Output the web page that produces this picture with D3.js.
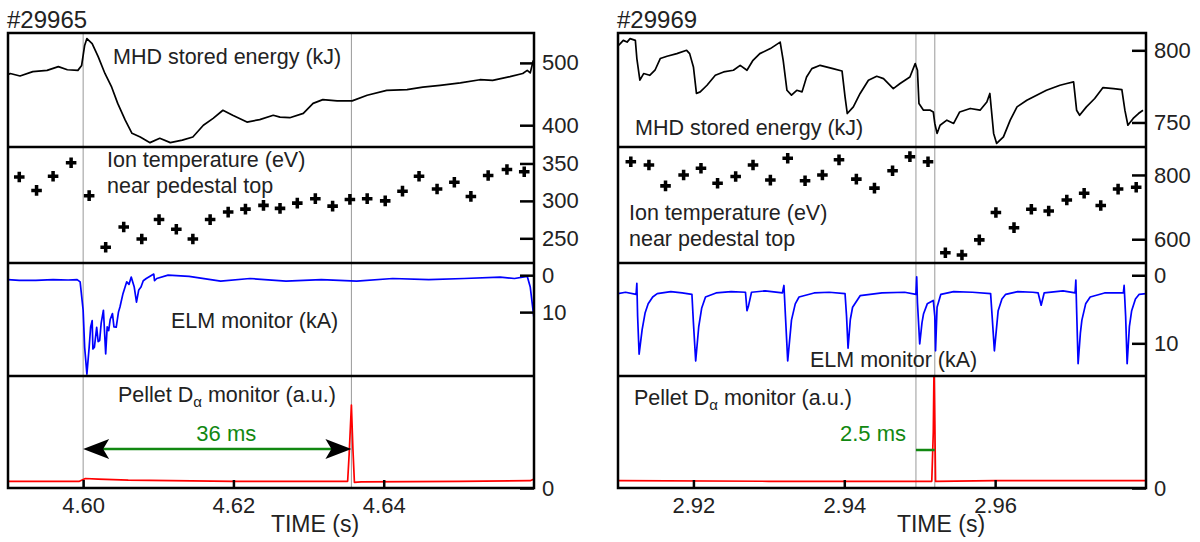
<!DOCTYPE html>
<html>
<head>
<meta charset="utf-8">
<style>
  body { margin: 0; background: #fff; }
  svg text { font-family: "Liberation Sans", Arial, sans-serif; fill: #222; }
  .frame { fill: none; stroke: #000; stroke-width: 2.5px; }
  .marker { stroke: #999; stroke-width: 1px; }
</style>
</head>
<body>
<svg id="chart" width="1200" height="542"></svg>
<script src="https://cdn.jsdelivr.net/npm/d3@7"></script>
<script>
// ---- shot #29965 : [time (s), value] ----
var leftWmhd = [[4.5900,481],[4.5903,483],[4.5916,479],[4.5933,486],[4.5952,488],[4.5967,494],[4.5979,489],[4.5993,488],[4.5998,496],[4.6002,528],[4.6005,539],[4.6012,531],[4.6020,510],[4.6029,483],[4.6038,461],[4.6046,435],[4.6056,408],[4.6065,387],[4.6076,381],[4.6089,372],[4.6102,379],[4.6116,372],[4.6132,376],[4.6146,381],[4.6160,400],[4.6173,411],[4.6186,424],[4.6199,416],[4.6218,405],[4.6235,409],[4.6253,416],[4.6262,413],[4.6275,412],[4.6293,419],[4.6306,435],[4.6319,441],[4.6338,439],[4.6358,439],[4.6378,448],[4.6404,456],[4.6431,457],[4.6452,461],[4.6475,464],[4.6502,468],[4.6528,473],[4.6545,472],[4.6568,478],[4.6585,483],[4.6591,488],[4.6595,484],[4.6599,504]];
var leftTi = [[4.5915,332],[4.5938,314],[4.5960,333],[4.5984,351],[4.6008,307],[4.6030,238],[4.6054,265],[4.6078,249],[4.6101,275],[4.6124,262],[4.6146,249],[4.6169,275],[4.6193,285],[4.6216,289],[4.6240,294],[4.6262,290],[4.6285,297],[4.6309,303],[4.6332,293],[4.6355,302],[4.6378,303],[4.6402,300],[4.6425,313],[4.6447,333],[4.6471,316],[4.6494,325],[4.6516,306],[4.6539,334],[4.6564,342],[4.6587,339]];
var leftElm = [[4.5900,1.2],[4.5915,1.4],[4.5937,1.4],[4.5960,1.2],[4.5980,1.3],[4.5992,1.2],[4.5996,1.8],[4.6000,9.5],[4.6002,19.5],[4.6005,26.8],[4.6008,19.5],[4.6010,14],[4.6012,12.3],[4.6013,20],[4.6015,19.5],[4.6018,14.1],[4.6020,18],[4.6022,17.7],[4.6024,13],[4.6027,9.5],[4.6030,21.3],[4.6032,14],[4.6034,15],[4.6036,12],[4.6039,10.4],[4.6041,14],[4.6044,14.1],[4.6047,10],[4.6049,8.6],[4.6053,5],[4.6058,1.8],[4.6061,2.5],[4.6064,0.5],[4.6068,3.2],[4.6071,7.3],[4.6074,4],[4.6077,3.2],[4.6080,1.5],[4.6084,0.9],[4.6094,-0.3],[4.6095,1.5],[4.6098,0.9],[4.6113,0],[4.6141,0.3],[4.6183,1.6],[4.6222,0.9],[4.6270,1.6],[4.6317,1.2],[4.6364,1.6],[4.6412,0.9],[4.6460,1.2],[4.6507,0.9],[4.6555,0.5],[4.6574,0.9],[4.6591,0.3],[4.6595,3.2],[4.6600,11.7]];
var leftPellet = [[4.5900,0.06],[4.5995,0.06],[4.6003,0.085],[4.6020,0.08],[4.6060,0.07],[4.6200,0.06],[4.6352,0.06],[4.6354,0.30],[4.6357,0.74],[4.6359,0.35],[4.6361,0.05],[4.6370,0.055],[4.6500,0.06],[4.6595,0.065],[4.6600,0.08]];
var leftEvents = [4.6000, 4.6357];   // ELM onset, pellet arrival
var leftDelay = "36 ms";

// ---- shot #29969 ----
var rightWmhd = [[2.9100,803],[2.9103,804.6],[2.9107,806.9],[2.9112,805.7],[2.9116,808.1],[2.9123,806.9],[2.9125,794.3],[2.9129,779.3],[2.9134,783.9],[2.9142,782.7],[2.9149,786.2],[2.9156,794.3],[2.9165,795.9],[2.9178,797.7],[2.9191,800],[2.9195,797.7],[2.9200,788.5],[2.9204,770.1],[2.9209,771.2],[2.9218,775.8],[2.9229,782.7],[2.9240,785],[2.9253,786.2],[2.9262,789.6],[2.9271,786.2],[2.9279,793.1],[2.9288,797.7],[2.9302,801.2],[2.9315,805.7],[2.9319,793.1],[2.9324,772.3],[2.9330,768.9],[2.9337,772.3],[2.9344,771.2],[2.9350,781.5],[2.9357,787.3],[2.9368,789.6],[2.9385,787.3],[2.9397,785.7],[2.9401,767.7],[2.9404,756.2],[2.9412,760.8],[2.9421,770.1],[2.9432,779.3],[2.9443,782],[2.9452,780.4],[2.9465,773.5],[2.9474,777],[2.9487,781.5],[2.9494,790.8],[2.9497,786.2],[2.9499,763.1],[2.9505,758.5],[2.9514,758.5],[2.9518,757.3],[2.9520,749.3],[2.9523,742.4],[2.9527,748.1],[2.9536,751.6],[2.9545,749.3],[2.9553,757.3],[2.9567,759.7],[2.9580,758.5],[2.9589,764.2],[2.9593,770.1],[2.9598,742.4],[2.9602,735.5],[2.9611,740],[2.9620,751.6],[2.9629,760.8],[2.9642,765.4],[2.9655,768.9],[2.9668,772.3],[2.9686,775.8],[2.9695,777],[2.9704,778.1],[2.9708,758.5],[2.9712,755],[2.9721,760.8],[2.9732,766.6],[2.9743,774.2],[2.9757,773.5],[2.9768,772.8],[2.9772,758.5],[2.9776,748.1],[2.9783,752.8],[2.9790,756.2],[2.9796,758.5]];
var rightTi = [[2.9117,841],[2.9141,831],[2.9163,766],[2.9187,800],[2.9210,821],[2.9232,774],[2.9256,795],[2.9279,831],[2.9302,784],[2.9325,852],[2.9348,782],[2.9371,800],[2.9393,847],[2.9416,787],[2.9440,759],[2.9464,813],[2.9487,857],[2.9511,841],[2.9534,558],[2.9556,551],[2.9579,598],[2.9601,683],[2.9625,636],[2.9648,693],[2.9671,688],[2.9695,722],[2.9718,743],[2.9740,705],[2.9763,756],[2.9787,762]];
var rightElm = [[2.9100,2.7],[2.9110,2.5],[2.9124,2.8],[2.9125,1.2],[2.9126,6],[2.9128,11.6],[2.9132,8.0],[2.9136,5.5],[2.9140,4.2],[2.9146,3.2],[2.9152,2.7],[2.9170,2.4],[2.9185,2.6],[2.9198,2.8],[2.9200,7],[2.9203,12.6],[2.9207,7.6],[2.9211,4.8],[2.9216,3.2],[2.9230,2.6],[2.9250,2.4],[2.9269,2.5],[2.9271,5.2],[2.9273,4.5],[2.9277,2.5],[2.9295,2.3],[2.9318,2.6],[2.9320,1.5],[2.9322,6],[2.9325,12.6],[2.9330,6.6],[2.9335,4.2],[2.9340,3.2],[2.9360,2.6],[2.9380,2.5],[2.9401,2.7],[2.9403,6],[2.9405,10.7],[2.9408,6.5],[2.9411,4.7],[2.9421,3.0],[2.9450,2.6],[2.9480,2.5],[2.9495,2.8],[2.9496,0.25],[2.9497,4],[2.9500,10.1],[2.9503,7],[2.9505,5.7],[2.9510,4.2],[2.9518,3.7],[2.9520,6],[2.9521,11.1],[2.9523,4.7],[2.9528,2.8],[2.9545,2.4],[2.9570,2.5],[2.9594,2.7],[2.9596,6],[2.9599,11.1],[2.9604,5.2],[2.9609,3.5],[2.9614,2.8],[2.9630,2.4],[2.9650,2.5],[2.9657,2.6],[2.9661,4.4],[2.9665,2.6],[2.9690,2.3],[2.9706,2.6],[2.9707,0.7],[2.9708,5],[2.9710,13],[2.9713,8.5],[2.9715,6.6],[2.9720,4.2],[2.9726,3.2],[2.9745,2.6],[2.9770,2.6],[2.9771,1.5],[2.9773,6],[2.9775,13],[2.9778,7.5],[2.9781,5.2],[2.9786,3.5],[2.9791,2.8],[2.9800,2.7]];
var rightPellet = [[2.9100,0.065],[2.9300,0.06],[2.9516,0.06],[2.9518,0.5],[2.9519,1.1],[2.9520,0.6],[2.9521,0.06],[2.9600,0.065],[2.9800,0.065]];
var rightEvents = [2.9495, 2.9520];
var rightDelay = "2.5 ms";

// ---- ticks ----
var leftTimeTicks = [4.60, 4.62, 4.64];
var rightTimeTicks = [2.92, 2.94, 2.96];
var leftWTicks = [400, 500], leftTiTicks = [250, 300, 350];
var rightWTicks = [750, 800], rightTiTicks = [600, 800];
var elmTicks = [0, 10], pelletTicks = [0];

var svg = d3.select("#chart");
var rowsY = [33, 147, 263, 376, 488];

function drawPanel(p) {
  var g = svg.append("g");
  var x = d3.scaleLinear().domain(p.tDomain).range([p.left, p.right]);
  var rows = [
    {data: p.wmhd, dom: p.wDom, ticks: p.wTicks, color: "#000", kind: "line"},
    {data: p.ti, dom: p.tiDom, ticks: p.tiTicks, kind: "dots"},
    {data: p.elm, dom: p.elmDom, ticks: elmTicks, color: "#0000ff", kind: "line", down: true},
    {data: p.pellet, dom: [0, 1], ticks: pelletTicks, color: "#ff0000", kind: "line"}
  ];

  // event markers (grey lines through all rows)
  g.selectAll("line.marker").data(p.events).join("line")
    .attr("class", "marker")
    .attr("x1", d => x(d)).attr("x2", d => x(d))
    .attr("y1", rowsY[0]).attr("y2", rowsY[4]);

  rows.forEach(function (r, i) {
    var top = rowsY[i], bot = rowsY[i + 1];
    var y = d3.scaleLinear().domain(r.dom).range(r.down ? [top, bot] : [bot, top]);
    r.y = y;
    var id = "clip" + p.id + i;
    g.append("clipPath").attr("id", id).append("rect")
      .attr("x", p.left).attr("y", top).attr("width", p.right - p.left).attr("height", bot - top);
    var cg = g.append("g").attr("clip-path", "url(#" + id + ")");
    if (r.kind === "line") {
      cg.append("path").datum(r.data)
        .attr("fill", "none").attr("stroke", r.color).attr("stroke-width", 1.7)
        .attr("stroke-linejoin", "round")
        .attr("d", d3.line().x(d => x(d[0])).y(d => y(d[1])));
    } else {
      cg.selectAll("path").data(r.data).join("path")
        .attr("transform", d => "translate(" + x(d[0]) + "," + y(d[1]) + ")")
        .attr("d", d3.symbol(d3.symbolCross, 62))
        .attr("fill", "#000");
    }
    // right-hand axis: inward ticks, labels outside
    var ax = g.append("g").attr("transform", "translate(" + p.right + ",0)")
      .call(d3.axisRight(y).tickValues(r.ticks).tickSize(-14).tickPadding(8).tickFormat(d3.format("d")));
    ax.select(".domain").remove();
    ax.selectAll("line").attr("stroke", "#000").attr("stroke-width", 2.5);
    ax.selectAll("text").attr("font-size", 22).attr("fill", "#222")
      .attr("font-family", "Liberation Sans, Arial, sans-serif");
  });

  // bottom time axis
  var xa = g.append("g").attr("transform", "translate(0," + rowsY[4] + ")")
    .call(d3.axisBottom(x).tickValues(p.timeTicks).tickSize(-8).tickPadding(9).tickFormat(d3.format(".2f")));
  xa.select(".domain").remove();
  xa.selectAll("line").attr("stroke", "#000").attr("stroke-width", 2.5);
  xa.selectAll("text").attr("font-size", 22).attr("fill", "#222")
    .attr("font-family", "Liberation Sans, Arial, sans-serif");

  // frames
  g.append("rect").attr("class", "frame")
    .attr("x", p.left).attr("y", rowsY[0]).attr("width", p.right - p.left).attr("height", rowsY[4] - rowsY[0]);
  g.selectAll("line.div").data(rowsY.slice(1, 4)).join("line")
    .attr("stroke", "#000").attr("stroke-width", 2.5)
    .attr("x1", p.left).attr("x2", p.right).attr("y1", d => d).attr("y2", d => d);

  // texts
  g.append("text").attr("x", p.left - 1).attr("y", 28).attr("font-size", 24).text(p.shot);
  g.append("text").attr("y", 532).attr("font-size", 23)
    .attr("text-anchor", "middle").attr("x", p.timeX).text("TIME (s)");
  p.labels.forEach(function (l) {
    g.append("text").attr("x", l.x).attr("y", l.y).attr("font-size", 21.5).text(l.t);
  });
  var pl = g.append("text").attr("x", p.pelletLabel[0]).attr("y", p.pelletLabel[1]).attr("font-size", 21.5);
  pl.append("tspan").text("Pellet D");
  pl.append("tspan").attr("font-size", 15).attr("dy", 5).text("α");
  pl.append("tspan").attr("dy", -5).text(" monitor (a.u.)");

  p.annotate(g, x, rows[3].y);
}

drawPanel({
  id: "L", shot: "#29965", left: 8, right: 534, tDomain: [4.59, 4.66], timeX: 315,
  wmhd: leftWmhd, wDom: [365, 548], wTicks: leftWTicks,
  ti: leftTi, tiDom: [217, 372], tiTicks: leftTiTicks,
  elm: leftElm, elmDom: [-3.3, 27.3],
  pellet: leftPellet, events: leftEvents, timeTicks: leftTimeTicks,
  labels: [
    {t: "MHD stored energy (kJ)", x: 113, y: 64},
    {t: "Ion temperature (eV)", x: 107, y: 167},
    {t: "near pedestal top", x: 107, y: 193},
    {t: "ELM monitor (kA)", x: 171, y: 328}
  ],
  pelletLabel: [118, 402],
  annotate: function (g, x, y) {
    var x0 = x(leftEvents[0]), x1 = x(leftEvents[1]), ya = 449;
    g.append("line").attr("x1", x0 + 18).attr("x2", x1 - 18).attr("y1", ya).attr("y2", ya)
      .attr("stroke", "#118811").attr("stroke-width", 2.5);
    g.append("path").attr("fill", "#000")
      .attr("d", "M" + x0 + "," + ya + "l26,-10l-6,10l6,10z M" + x1 + "," + ya + "l-26,-10l6,10l-6,10z");
    g.append("text").attr("x", (x0 + x1) / 2 + 9).attr("y", 441).attr("text-anchor", "middle")
      .attr("font-size", 22).style("fill", "#118811").text(leftDelay);
  }
});

drawPanel({
  id: "R", shot: "#29969", left: 618, right: 1146, tDomain: [2.91, 2.98], timeX: 941,
  wmhd: rightWmhd, wDom: [733, 812], wTicks: rightWTicks,
  ti: rightTi, tiDom: [526, 887], tiTicks: rightTiTicks,
  elm: rightElm, elmDom: [-1.8, 14.8],
  pellet: rightPellet, events: rightEvents, timeTicks: rightTimeTicks,
  labels: [
    {t: "MHD stored energy (kJ)", x: 635, y: 135},
    {t: "Ion temperature (eV)", x: 629, y: 220},
    {t: "near pedestal top", x: 629, y: 246},
    {t: "ELM monitor (kA)", x: 810, y: 367}
  ],
  pelletLabel: [634, 405],
  annotate: function (g, x, y) {
    var x0 = x(rightEvents[0]), x1 = x(rightEvents[1]), ya = 450;
    g.append("line").attr("x1", x0).attr("x2", x1).attr("y1", ya).attr("y2", ya)
      .attr("stroke", "#118811").attr("stroke-width", 2.5);
    g.append("text").attr("x", 906).attr("y", 441).attr("text-anchor", "end")
      .attr("font-size", 22).style("fill", "#118811").text(rightDelay);
  }
});
</script>
</body>
</html>
